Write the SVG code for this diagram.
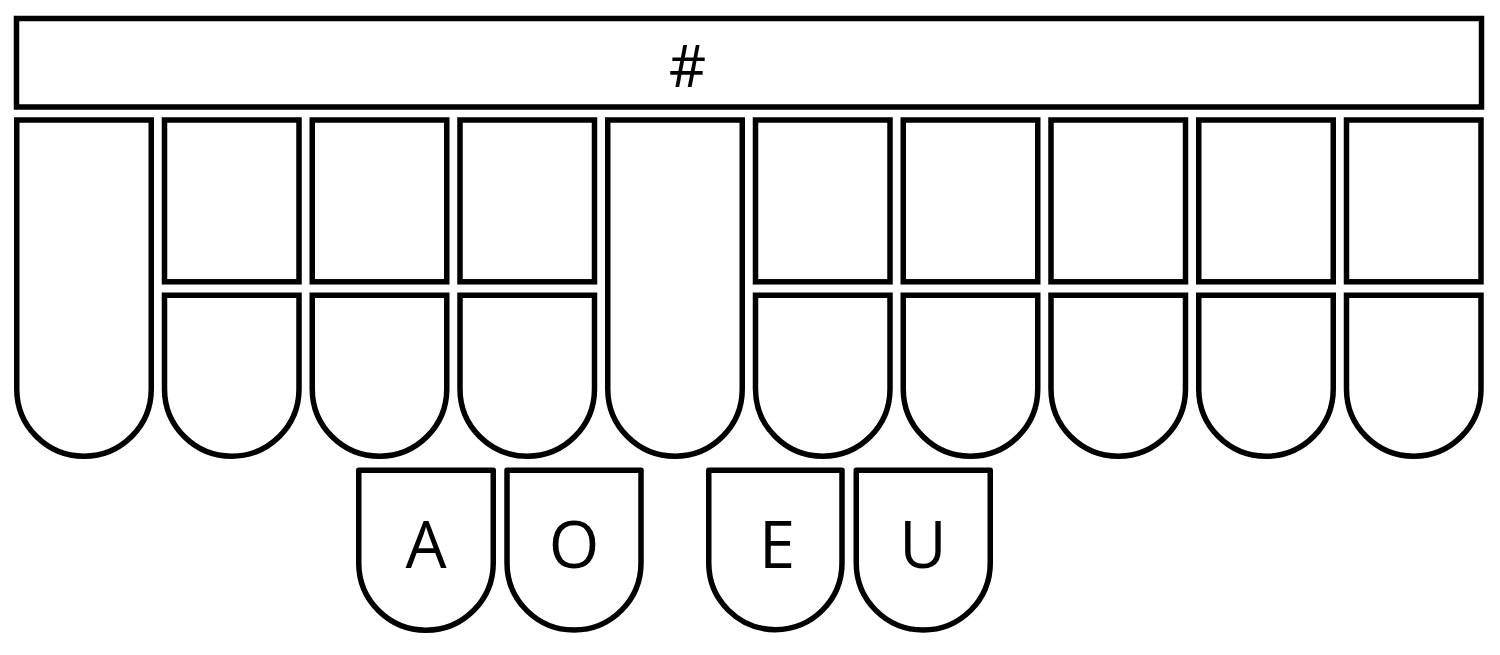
<svg xmlns="http://www.w3.org/2000/svg" width="1500" height="655" viewBox="0 0 1500 655">
<style>
.k{fill:#fff;stroke:#000;stroke-width:5.5;stroke-linejoin:miter}
.v{fill:#fff;stroke:#000;stroke-width:5.5;stroke-linejoin:round}
.t{font-family:"Open Sans","Noto Sans","DejaVu Sans",sans-serif;fill:#000;text-anchor:middle}
</style>
<rect width="1500" height="655" fill="#fff"/>
<g id="number-bar"><rect class="k" x="16.5" y="18.5" width="1465" height="88.5"/><text class="t" x="687.5" y="87" font-size="58">#</text></g>
<g id="key-S"><path class="k" d="M16.75,120 H151.25 V389 A67.25,67.25 0 0 1 16.75,389 Z"/></g>
<g id="key-T"><rect class="k" x="164.5" y="120" width="134.5" height="161.8"/></g>
<g id="key-K"><path class="k" d="M164.5,295.3 H299 V389 A67.25,67.25 0 0 1 164.5,389 Z"/></g>
<g id="key-P"><rect class="k" x="312.25" y="120" width="134.5" height="161.8"/></g>
<g id="key-W"><path class="k" d="M312.25,295.3 H446.75 V389 A67.25,67.25 0 0 1 312.25,389 Z"/></g>
<g id="key-H"><rect class="k" x="460" y="120" width="134.5" height="161.8"/></g>
<g id="key-R"><path class="k" d="M460,295.3 H594.5 V389 A67.25,67.25 0 0 1 460,389 Z"/></g>
<g id="key-star"><path class="k" d="M607.75,120 H742.25 V389 A67.25,67.25 0 0 1 607.75,389 Z"/></g>
<g id="key-F"><rect class="k" x="755.5" y="120" width="134.5" height="161.8"/></g>
<g id="key-R2"><path class="k" d="M755.5,295.3 H890 V389 A67.25,67.25 0 0 1 755.5,389 Z"/></g>
<g id="key-P2"><rect class="k" x="903.25" y="120" width="134.5" height="161.8"/></g>
<g id="key-B"><path class="k" d="M903.25,295.3 H1037.75 V389 A67.25,67.25 0 0 1 903.25,389 Z"/></g>
<g id="key-L"><rect class="k" x="1051" y="120" width="134.5" height="161.8"/></g>
<g id="key-G"><path class="k" d="M1051,295.3 H1185.5 V389 A67.25,67.25 0 0 1 1051,389 Z"/></g>
<g id="key-T2"><rect class="k" x="1198.75" y="120" width="134.5" height="161.8"/></g>
<g id="key-S2"><path class="k" d="M1198.75,295.3 H1333.25 V389 A67.25,67.25 0 0 1 1198.75,389 Z"/></g>
<g id="key-D"><rect class="k" x="1346.5" y="120" width="134.5" height="161.8"/></g>
<g id="key-Z"><path class="k" d="M1346.5,295.3 H1481 V389 A67.25,67.25 0 0 1 1346.5,389 Z"/></g>
<g id="key-A"><path class="v" d="M358.75,470.3 H493.25 V563 A67.25,67.25 0 0 1 358.75,563 Z"/><text class="t" x="426" y="568" font-size="65">A</text></g>
<g id="key-O"><path class="v" d="M507,470.3 H641 V563 A67,67 0 0 1 507,563 Z"/><text class="t" x="574" y="568" font-size="65">O</text></g>
<g id="key-E"><path class="v" d="M708.75,470.3 H842 V563 A66.6,66.6 0 0 1 708.75,563 Z"/><text class="t" x="777" y="568" font-size="65">E</text></g>
<g id="key-U"><path class="v" d="M856.25,470.3 H990.25 V563 A67,67 0 0 1 856.25,563 Z"/><text class="t" x="923" y="568" font-size="65">U</text></g>
<g id="connectors"/>
</svg>
